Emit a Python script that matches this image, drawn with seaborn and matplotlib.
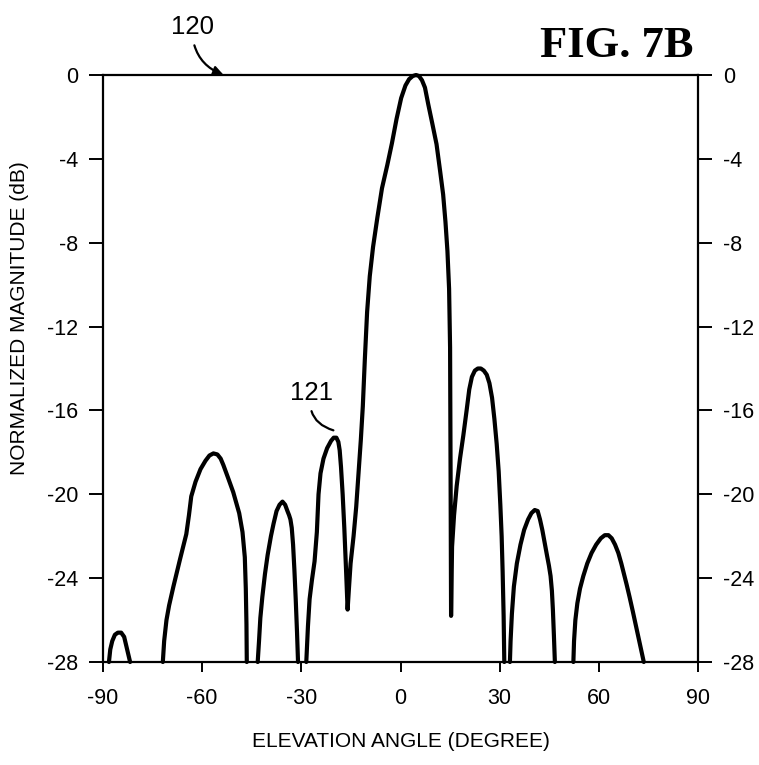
import numpy as np
import pandas as pd
import seaborn as sns
import matplotlib
matplotlib.use("Agg")
import matplotlib.pyplot as plt

# Elevation radiation pattern, one list pair per visible lobe (clipped at -28 dB)
lobe1_angle = [-88.2, -87.8, -87.2, -86.4, -85.5, -84.5, -83.6, -83.0, -82.4, -81.8]
lobe1_db = [-28.0, -27.4, -27.0, -26.7, -26.6, -26.6, -26.8, -27.2, -27.6, -28.0]

lobe2_angle = [-71.9, -71.5, -70.8, -70.0, -68.7, -66.7, -64.8, -64.0, -63.3, -62.0,
               -60.5, -59.0, -57.8, -56.6, -55.4, -54.4, -53.6, -52.2, -50.6, -48.8,
               -47.8, -47.1, -46.8, -46.6, -46.5]
lobe2_db = [-28.0, -27.0, -26.0, -25.3, -24.4, -23.1, -21.9, -21.0, -20.1, -19.4,
            -18.8, -18.4, -18.15, -18.05, -18.1, -18.3, -18.6, -19.2, -19.9, -20.9,
            -21.8, -23.0, -24.5, -26.2, -28.0]

lobe3_angle = [-43.2, -42.8, -42.4, -41.8, -41.0, -40.2, -39.2, -38.4, -37.5, -36.6,
               -35.7, -34.9, -34.2, -33.7, -33.3, -32.9, -32.5, -32.1, -31.7, -31.3,
               -31.0]
lobe3_db = [-28.0, -27.0, -25.9, -24.9, -23.8, -22.9, -22.0, -21.4, -20.8, -20.5,
            -20.35, -20.5, -20.8, -21.0, -21.2, -21.6, -22.4, -23.6, -25.0, -26.6,
            -28.0]

main_angle = [-28.5, -28.0, -27.5, -26.8, -26.0, -25.3, -24.8, -24.2, -23.3, -22.2,
              -21.0, -20.2, -19.4, -18.8, -18.4, -18.0, -17.5, -17.0, -16.5, -16.0,
              -15.6, -15.1, -14.2, -13.4, -12.7, -12.0, -11.4, -10.8, -10.1, -9.3,
              -8.3, -7.0, -5.6, -4.0, -2.6, -1.2, 0.2, 1.5, 2.6, 3.7,
              4.7, 5.6, 6.5, 7.4, 8.4, 9.6, 10.9, 12.0, 12.9, 13.6,
              14.2, 14.7, 15.0, 15.15, 15.3, 15.6, 16.2, 17.0, 18.0, 19.0,
              20.0, 20.8, 21.6, 22.5, 23.4, 24.3, 25.2, 26.1, 26.9, 27.7,
              28.4, 29.1, 29.7, 30.2, 30.6, 30.9, 31.2, 31.4]
main_db = [-28.0, -26.3, -25.0, -24.1, -23.2, -21.8, -20.0, -19.0, -18.3, -17.8,
           -17.45, -17.3, -17.3, -17.5, -17.9, -18.7, -20.0, -21.6, -23.5, -25.5,
           -24.5, -23.3, -22.0, -20.6, -19.0, -17.4, -15.8, -13.6, -11.3, -9.6,
           -8.2, -6.8, -5.4, -4.3, -3.26, -2.1, -1.1, -0.5, -0.2, -0.05,
           0.0, -0.05, -0.25, -0.6, -1.4, -2.3, -3.3, -4.6, -5.7, -7.0,
           -8.4, -10.2, -13.0, -19.0, -25.8, -22.5, -21.0, -19.6, -18.3, -17.2,
           -16.0, -15.0, -14.4, -14.1, -14.0, -14.0, -14.1, -14.3, -14.7, -15.4,
           -16.4, -17.6, -18.9, -20.5, -22.0, -23.7, -25.8, -28.0]

lobe4_angle = [33.1, 33.3, 33.7, 34.3, 35.2, 36.3, 37.4, 38.6, 39.6, 40.6, 41.5, 42.2,
               42.9, 43.6, 44.3, 44.9, 45.4, 45.8, 46.1, 46.4, 46.7]
lobe4_db = [-28.0, -27.0, -25.7, -24.4, -23.3, -22.4, -21.7, -21.2, -20.9, -20.75, -20.8, -21.2,
            -21.7, -22.3, -22.9, -23.4, -23.9, -24.6, -25.5, -26.7, -28.0]

lobe5_angle = [52.3, 52.5, 52.9, 53.5, 54.3, 55.3, 56.5, 57.8, 59.2, 60.6, 61.8, 62.9,
               63.9, 64.9, 65.9, 66.8, 67.6, 68.4, 69.3, 70.3, 71.4, 72.5, 73.6]
lobe5_db = [-28.0, -27.0, -26.0, -25.2, -24.5, -23.9, -23.3, -22.8, -22.4, -22.1, -21.95, -21.95,
            -22.1, -22.4, -22.8, -23.3, -23.8, -24.3, -24.9, -25.6, -26.4, -27.2, -28.0]

x_ticks = [-90, -60, -30, 0, 30, 60, 90]
y_ticks = [0, -4, -8, -12, -16, -20, -24, -28]

lobes = [(lobe1_angle, lobe1_db), (lobe2_angle, lobe2_db), (lobe3_angle, lobe3_db),
         (main_angle, main_db), (lobe4_angle, lobe4_db), (lobe5_angle, lobe5_db)]
frames = []
for i, (a, d) in enumerate(lobes):
    frames.append(pd.DataFrame({"angle": a, "db": d, "lobe": i}))
df = pd.concat(frames, ignore_index=True)

sns.set_style("ticks")
plt.rcParams["font.family"] = ["Liberation Sans Narrow", "Liberation Sans", "DejaVu Sans"]
plt.rcParams["text.color"] = "black"
plt.rcParams["axes.labelcolor"] = "black"

fig = plt.figure(figsize=(7.59, 7.65), dpi=100)
ax = fig.add_axes([103 / 759, 1 - 662 / 765, 595 / 759, 587 / 765])

sns.lineplot(data=df, x="angle", y="db", units="lobe", estimator=None, sort=False,
             color="black", linewidth=3.0, ax=ax, legend=False)
for line in ax.lines:
    line.set_clip_on(False)
    line.set_solid_joinstyle("round")
    line.set_solid_capstyle("round")

ax.set_xlim(-90, 90)
ax.set_ylim(-28, 0)
ax.set_xticks(x_ticks)
ax.set_yticks(y_ticks)
ax.set_xticklabels([str(v) for v in x_ticks])
ax.set_yticklabels([str(v) for v in y_ticks])

for side in ["left", "right", "top", "bottom"]:
    ax.spines[side].set_visible(True)
    ax.spines[side].set_linewidth(1.6)
    ax.spines[side].set_color("black")

ax.tick_params(axis="y", which="both", left=True, right=True, labelleft=True,
               labelright=True, direction="out", length=10, width=1.4, pad=8,
               labelsize=15.5, colors="black")
ax.tick_params(axis="x", which="both", bottom=True, top=False, direction="out",
               length=7, width=1.4, pad=12, labelsize=15.5, colors="black")

ax.set_xlabel("ELEVATION ANGLE (DEGREE)", fontsize=15, labelpad=16, color="black")
ax.set_ylabel("NORMALIZED MAGNITUDE (dB)", fontsize=15, color="black")
ax.yaxis.set_label_coords(-0.125, 0.585)

# Reference numerals
ax.annotate("120", xy=(-53.5, 0.0), xytext=(-63.0, 1.7),
            textcoords="data", xycoords="data", fontsize=18.5, ha="center", va="bottom",
            annotation_clip=False, color="black",
            arrowprops=dict(arrowstyle="-|>", color="black", lw=1.6,
                            mutation_scale=15, shrinkA=2, shrinkB=0,
                            connectionstyle="arc3,rad=0.35"))
ax.annotate("121", xy=(-20.3, -16.95), xytext=(-27.0, -15.75),
            textcoords="data", xycoords="data", fontsize=18.5, ha="center", va="bottom",
            color="black",
            arrowprops=dict(arrowstyle="-", color="black", lw=1.6,
                            shrinkA=2, shrinkB=0,
                            connectionstyle="arc3,rad=0.45"))

fig.text(617 / 759, 1 - 46 / 765, "FIG. 7B", fontsize=32, ha="center", va="center",
         color="black", fontweight="bold", family=["Liberation Serif", "DejaVu Serif"])

fig.savefig("out.png", dpi=100, facecolor="white")
